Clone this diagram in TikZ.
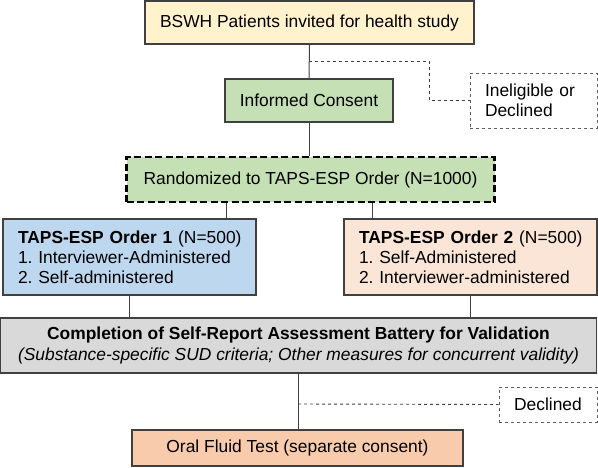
\documentclass[tikz,border=0pt]{standalone}
\usepackage{fontspec}
\setmainfont{Liberation Sans}
\usepackage{tikz}
\usetikzlibrary{positioning}
\frenchspacing
\definecolor{inviteYellow}{HTML}{FFF2CC}
\definecolor{consentGreen}{HTML}{C5E0B4}
\definecolor{orderBlue}{HTML}{BDD7EE}
\definecolor{orderPeach}{HTML}{FBE5D6}
\definecolor{batteryGray}{HTML}{D9D9D9}
\definecolor{fluidOrange}{HTML}{F8CBAD}
\definecolor{edgeGray}{HTML}{404040}
\tikzset{
  box/.style={draw=edgeGray, line width=1.2pt, inner sep=0pt, align=center,
    font=\fontsize{17.4}{20}\selectfont},
  exitbox/.style={box, draw=edgeGray!85, dashed, line width=0.9pt, fill=white},
  link/.style={draw=edgeGray, line width=1pt},
  exitlink/.style={draw=edgeGray, dashed, line width=0.9pt},
}

\begin{document}
\begin{tikzpicture}[x=1pt,y=-1pt]
  \useasboundingbox (0,0) rectangle (598,467);

  % main flow
  \node[box, fill=inviteYellow, minimum width=329, minimum height=43] (invite) at (309.5,22.5)
    {BSWH Patients invited for health study};
  \node[box, fill=consentGreen, minimum width=168, minimum height=43] (consent) at (309,100.5)
    {Informed Consent};
  \node[box, fill=consentGreen, draw=black, line width=2.8pt, dash pattern=on 7pt off 3.5pt,
    minimum width=368, minimum height=45] (random) at (310.5,179.5)
    {Randomized to TAPS-ESP Order (N=1000)};

  \node[box, fill=orderBlue, minimum width=253, minimum height=76, text width=223, align=left]
    (order1) at (129.5,257)
    {\mbox{\textbf{TAPS-ESP Order 1} (N=500)}\\\mbox{1. Interviewer-Administered}\\\mbox{2. Self-administered}};
  \node[box, fill=orderPeach, minimum width=253, minimum height=76, text width=223, align=left]
    (order2) at (470.5,257)
    {\mbox{\textbf{TAPS-ESP Order 2} (N=500)}\\\mbox{1. Self-Administered}\\\mbox{2. Interviewer-administered}};

  \node[box, fill=batteryGray, minimum width=596, minimum height=55, font=\fontsize{17.4}{21}\selectfont]
    (battery) at (298.5,345.5)
    {\textbf{Completion of Self-Report Assessment Battery for Validation}\\
     \textit{(Substance-specific SUD criteria; Other measures for concurrent validity)}};
  \node[box, fill=fluidOrange, minimum width=331, minimum height=36] (fluid) at (297.5,448)
    {Oral Fluid Test (separate consent)};

  % exits
  \node[exitbox, minimum width=127, minimum height=55, text width=97, align=left]
    (inelig) at (533.5,100.5) {Ineligible or\\Declined};
  \node[exitbox, minimum width=98, minimum height=35] (declined) at (548,404.5) {Declined};

  % connectors
  \coordinate (split1) at (309,61);
  \coordinate (bend1) at (429,61);
  \coordinate (lane1) at (226,0);
  \coordinate (lane2) at (372,0);
  \coordinate (split2) at (298,404);

  \draw[link] (invite.south) -- (consent.north);
  \draw[exitlink] (split1) -- (bend1) |- (inelig.west);
  \draw[link] (consent.south) -- (random.north -| consent.south);
  \draw[link] (random.south -| lane1) -- (order1.north -| lane1);
  \draw[link] (random.south -| lane2) -- (order2.north -| lane2);
  \draw[link] (order1.south) -- (order1.south |- battery.north);
  \draw[link] (order2.south) -- (order2.south |- battery.north);
  \draw[link] (battery.south -| split2) -- (fluid.north -| split2);
  \draw[exitlink] (split2) -- (declined.west);
\end{tikzpicture}
\end{document}
